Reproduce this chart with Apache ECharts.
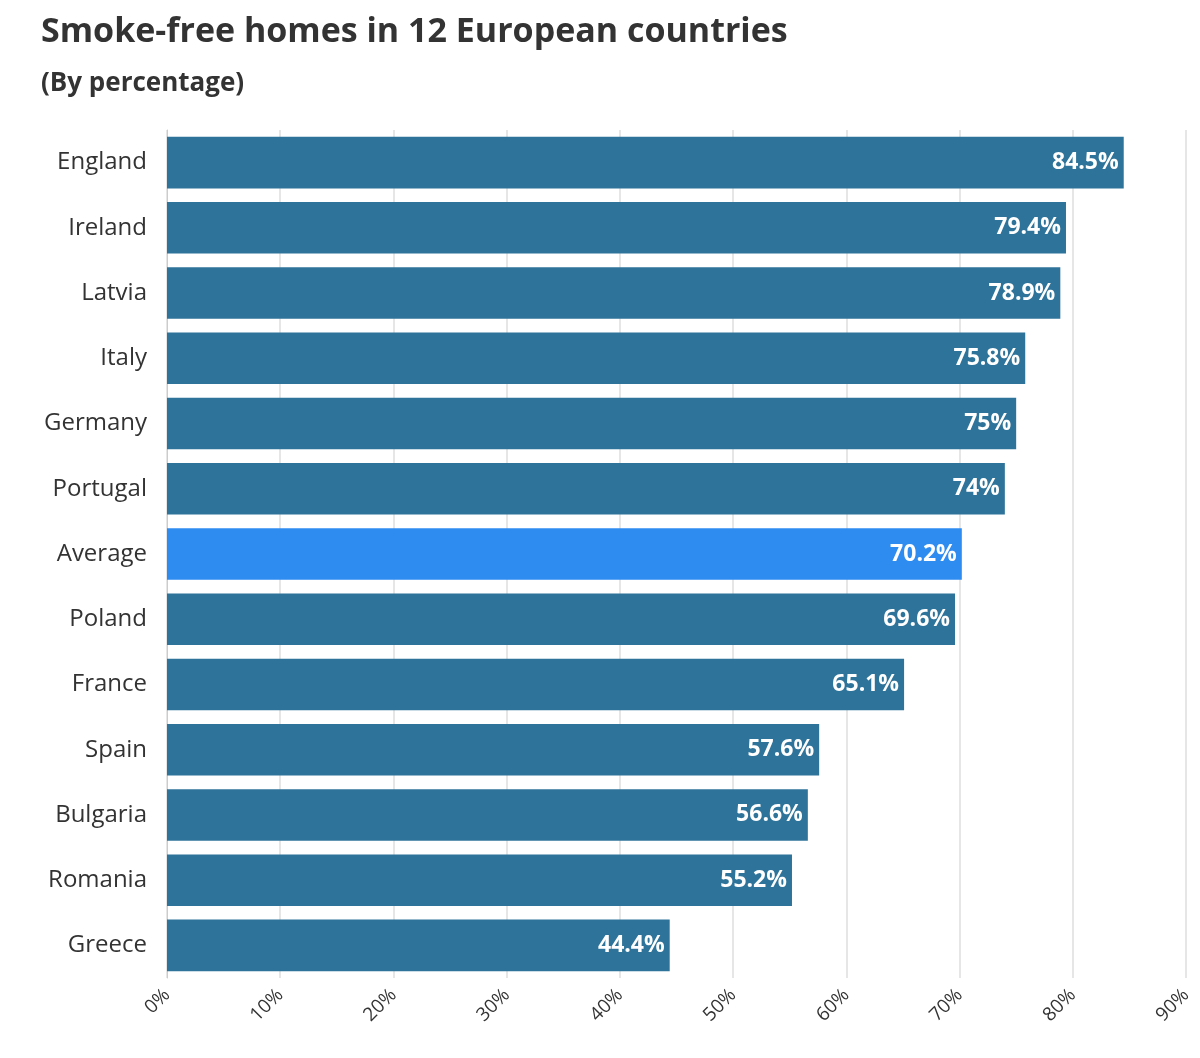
<!DOCTYPE html>
<html><head><meta charset="utf-8">
<script src="https://cdn.jsdelivr.net/npm/echarts@6/dist/echarts.min.js"></script>
<style>html,body{margin:0;background:#fff}#c{width:1200px;height:1058px}</style>
</head><body><div id="c"></div>
<script>
const countries = ["England","Ireland","Latvia","Italy","Germany","Portugal","Average","Poland","France","Spain","Bulgaria","Romania","Greece"];
const values = [84.5,79.4,78.9,75.8,75,74,70.2,69.6,65.1,57.6,56.6,55.2,44.4];
const highlight = "Average";

const chart = echarts.init(document.getElementById("c"));
chart.setOption({
  animation: false,
  textStyle: {fontFamily: "Open Sans"},
  title: [
    {text: "Smoke-free homes in 12 European countries", left: 36, top: 10,
     textStyle: {fontSize: 34, fontWeight: "bold", color: "#333", fontFamily: "Open Sans"}},
    {text: "(By percentage)", left: 36, top: 66,
     textStyle: {fontSize: 26, fontWeight: "bold", color: "#333", fontFamily: "Open Sans"}}
  ],
  grid: {left: 167, right: 14, top: 130, bottom: 80, containLabel: false},
  xAxis: {
    type: "value", min: 0, max: 90, interval: 10,
    axisLabel: {formatter: "{value}%", rotate: 45, fontSize: 19, color: "#333", margin: 14},
    splitLine: {lineStyle: {color: "#e6e6e6", width: 2}},
    axisLine: {show: false}, axisTick: {show: false}
  },
  yAxis: {
    type: "category", inverse: true, data: countries,
    axisLabel: {fontSize: 24, color: "#333", margin: 20},
    axisLine: {show: true, lineStyle: {color: "#ccc"}}, axisTick: {show: false}
  },
  series: [{
    type: "bar", barCategoryGap: "21%",
    data: values.map((v, i) => ({value: v,
      itemStyle: {color: countries[i] === highlight ? "#2e8bf0" : "#2e7399"}})),
    label: {show: true, position: "insideRight", formatter: "{c}%", color: "#fff",
      fontWeight: "bold", fontSize: 23, distance: 5}
  }]
});
</script></body></html>
